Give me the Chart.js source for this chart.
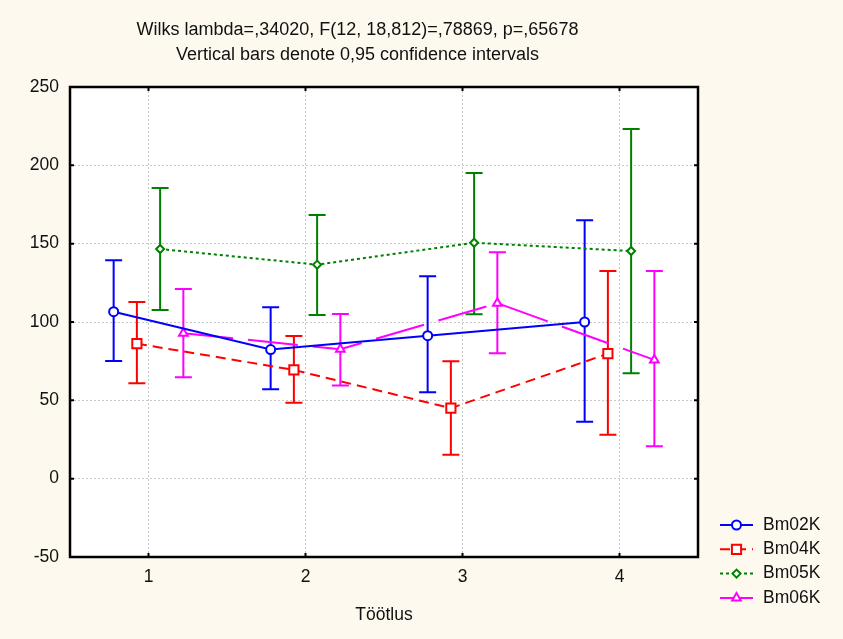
<!DOCTYPE html>
<html>
<head>
<meta charset="utf-8">
<script src="https://cdn.jsdelivr.net/npm/chart.js@4.4.1/dist/chart.umd.min.js"></script>
<style>
    html, body { margin: 0; padding: 0; background: #fdf9ef; }
    #wrap { width: 843px; height: 639px; }
</style>
</head>
<body>
<div id="wrap"><canvas id="grafico" width="843" height="639"></canvas></div>
<script>
// categories on the x axis (Töötlus)
const categories = [1, 2, 3, 4];
const yTicks = [-50, 0, 50, 100, 150, 200, 250];

// series names and their horizontal shift inside each category
const seriesNames = ["Bm02K", "Bm04K", "Bm05K", "Bm06K"];
const seriesShift = [-0.222, -0.074, 0.074, 0.222];

// means
const meanBm02K = [106.6, 82.4, 91.3, 100.0];
const meanBm04K = [86.2, 69.4, 45.0, 79.8];
const meanBm05K = [146.6, 136.6, 150.6, 145.3];
const meanBm06K = [92.8, 82.6, 112.0, 75.8];

// 0,95 confidence limits
const lowBm02K = [75.1, 57.0, 55.2, 36.4];
const highBm02K = [139.4, 109.4, 129.2, 164.9];
const lowBm04K = [60.9, 48.5, 15.2, 28.1];
const highBm04K = [112.8, 91.1, 75.0, 132.6];
const lowBm05K = [107.7, 104.5, 105.0, 67.3];
const highBm05K = [185.5, 168.3, 195.1, 223.2];
const lowBm06K = [64.7, 59.4, 80.0, 20.7];
const highBm06K = [121.1, 105.1, 144.5, 132.6];

const titleLines = [
    "Wilks lambda=,34020, F(12, 18,812)=,78869, p=,65678",
    "Vertical bars denote 0,95 confidence intervals"
];
const xTitle = "Töötlus";

const FONT = "'Liberation Sans', Arial, sans-serif";

const means = [meanBm02K, meanBm04K, meanBm05K, meanBm06K];
const lows = [lowBm02K, lowBm04K, lowBm05K, lowBm06K];
const highs = [highBm02K, highBm04K, highBm05K, highBm06K];
const colors = ["#0000ff", "#ff0000", "#008000", "#ff00ff"];
const dashes = [[], [10, 6], [3, 3], [50, 15]];
const styles = ["circle", "rect", "rectRot", "triangle"];
const radii = [4.5, 6.5, 4, 5];

const datasets = seriesNames.map((name, s) => ({
    label: name,
    data: categories.map((c, i) => ({ x: c + seriesShift[s], y: means[s][i] })),
    borderColor: colors[s],
    borderWidth: 2,
    borderDash: dashes[s],
    tension: 0,
    pointStyle: styles[s],
    pointRadius: radii[s],
    pointBackgroundColor: "#ffffff",
    pointBorderColor: colors[s],
    pointBorderWidth: 2
}));

const decorations = {
    id: "decorations",
    beforeDraw(chart) {
        const { ctx, chartArea: a } = chart;
        ctx.save();
        ctx.fillStyle = "#fdf9ef";
        ctx.fillRect(0, 0, chart.width, chart.height);
        ctx.fillStyle = "#ffffff";
        ctx.fillRect(a.left, a.top, a.right - a.left, a.bottom - a.top);
        ctx.restore();
    },
    beforeDatasetsDraw(chart) {
        // confidence interval whiskers
        const { ctx, scales: { x, y } } = chart;
        ctx.save();
        ctx.lineWidth = 2;
        seriesNames.forEach((name, s) => {
            ctx.strokeStyle = colors[s];
            categories.forEach((c, i) => {
                const px = x.getPixelForValue(c + seriesShift[s]);
                const top = y.getPixelForValue(highs[s][i]);
                const bot = y.getPixelForValue(lows[s][i]);
                ctx.beginPath();
                ctx.moveTo(px, top); ctx.lineTo(px, bot);
                ctx.moveTo(px - 8.5, top); ctx.lineTo(px + 8.5, top);
                ctx.moveTo(px - 8.5, bot); ctx.lineTo(px + 8.5, bot);
                ctx.stroke();
            });
        });
        ctx.restore();
    },
    afterDraw(chart) {
        const { ctx, chartArea: a, scales: { x, y } } = chart;
        ctx.save();
        // frame
        ctx.strokeStyle = "#000000";
        ctx.lineWidth = 2.5;
        ctx.strokeRect(a.left, a.top, a.right - a.left, a.bottom - a.top);
        // inner tick marks
        ctx.lineWidth = 2;
        ctx.beginPath();
        categories.forEach(c => {
            const px = x.getPixelForValue(c);
            ctx.moveTo(px, a.bottom); ctx.lineTo(px, a.bottom - 4);
            ctx.moveTo(px, a.top); ctx.lineTo(px, a.top + 4);
        });
        yTicks.forEach(v => {
            const py = y.getPixelForValue(v);
            ctx.moveTo(a.left, py); ctx.lineTo(a.left + 4, py);
            ctx.moveTo(a.right, py); ctx.lineTo(a.right - 4, py);
        });
        ctx.stroke();

        // title
        ctx.fillStyle = "#111111";
        ctx.font = "18px " + FONT;
        ctx.textAlign = "center";
        ctx.textBaseline = "middle";
        ctx.fillText(titleLines[0], 357.5, 30);
        ctx.fillText(titleLines[1], 357.5, 55);

        // legend
        ctx.font = "17.5px " + FONT;
        ctx.textAlign = "left";
        seriesNames.forEach((name, s) => {
            const ly = 525 + s * 24.3;
            ctx.strokeStyle = colors[s];
            ctx.lineWidth = 2;
            ctx.setLineDash(dashes[s]);
            ctx.beginPath();
            ctx.moveTo(720, ly); ctx.lineTo(753, ly);
            ctx.stroke();
            ctx.setLineDash([]);
            ctx.fillStyle = "#ffffff";
            Chart.helpers.drawPoint(ctx, { pointStyle: styles[s], radius: radii[s], rotation: 0, borderWidth: 2 }, 736.5, ly);
            ctx.fillStyle = "#111111";
            ctx.fillText(name, 763, ly);
        });
        ctx.restore();
    }
};

new Chart(document.getElementById("grafico"), {
    type: "line",
    data: { datasets: datasets },
    options: {
        responsive: false,
        animation: false,
        devicePixelRatio: 1,
        layout: { padding: { left: 0, top: 87, right: 145, bottom: 0 } },
        plugins: {
            legend: { display: false },
            tooltip: { enabled: false }
        },
        scales: {
            x: {
                type: "linear",
                min: 0.5,
                max: 4.5,
                afterBuildTicks: s => { s.ticks = categories.map(v => ({ value: v })); },
                afterFit: s => { s.height = 82; },
                grid: { color: "#c8c8c8", lineWidth: 1, drawTicks: false },
                border: { display: false, dash: [2, 2] },
                ticks: { padding: 10, color: "#111111", font: { family: FONT, size: 17.5 } },
                title: {
                    display: true,
                    text: xTitle,
                    color: "#111111",
                    font: { family: FONT, size: 17.5 },
                    padding: { top: 0, bottom: 13.5 }
                }
            },
            y: {
                min: -50,
                max: 250,
                afterBuildTicks: s => { s.ticks = yTicks.map(v => ({ value: v })); },
                afterFit: s => { s.width = 70; },
                grid: { color: "#c8c8c8", lineWidth: 1, drawTicks: false },
                border: { display: false, dash: [2, 2] },
                ticks: { padding: 11, color: "#111111", font: { family: FONT, size: 17.5 } }
            }
        }
    },
    plugins: [decorations]
});
</script>
</body>
</html>
